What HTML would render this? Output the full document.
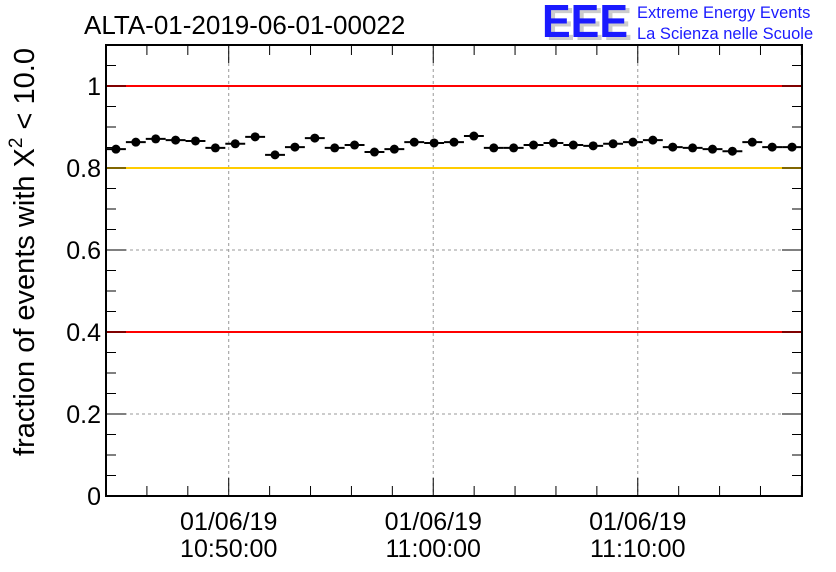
<!DOCTYPE html>
<html><head><meta charset="utf-8"><style>
body{margin:0;background:#fff;}
svg{display:block;font-family:"Liberation Sans",sans-serif;}
</style></head><body>
<svg id="c" width="836" height="572">
<text x="84" y="34" font-size="26">ALTA-01-2019-06-01-00022</text>
<g>
<text x="546" y="40" font-size="46" font-weight="bold" fill="#ccc" textLength="86" lengthAdjust="spacingAndGlyphs">EEE</text>
<text x="542" y="37" font-size="46" font-weight="bold" fill="#1a1aff" textLength="86" lengthAdjust="spacingAndGlyphs">EEE</text>
<text x="637" y="18" font-size="16.5" fill="#1a1aff">Extreme Energy Events</text>
<text x="637" y="39" font-size="16.5" fill="#1a1aff">La Scienza nelle Scuole</text>
</g>
<text transform="translate(34,252) rotate(-90)" text-anchor="middle" font-size="29">fraction of events with X<tspan dy="-12" font-size="19">2</tspan><tspan dy="12"> &lt; 10.0</tspan></text>
<g id="g"></g>
</svg>
<script>
const values=[0.846,0.863,0.871,0.868,0.866,0.849,0.859,0.876,0.832,0.851,0.873,0.849,0.856,0.839,0.846,0.863,0.861,0.863,0.878,0.849,0.849,0.856,0.861,0.856,0.854,0.859,0.863,0.868,0.851,0.849,0.846,0.841,0.863,0.851,0.851];
const yTicks=[0,0.2,0.4,0.6,0.8,1];
const yTickLabels=["0","0.2","0.4","0.6","0.8","1"];
const xTicks=[6,16,26];
const xTickLabels=[["01/06/19","10:50:00"],["01/06/19","11:00:00"],["01/06/19","11:10:00"]];
const refLines=[[1,"#f00"],[0.8,"#fc0"],[0.4,"#f00"]];
const X0=106,X1=802,Y0=496,Y1=45,TMIN=0,TMAX=34.03,VMAX=1.1;
const xs=t=>X0+(t-TMIN)/(TMAX-TMIN)*(X1-X0);
const ys=v=>Y0-v/VMAX*(Y0-Y1);
const g=document.getElementById('g');
const NS="http://www.w3.org/2000/svg";
function mk(tag,a,name){const e=document.createElementNS(NS,tag);for(const k in a)e.setAttribute(k,a[k]);


g.appendChild(e);return e;}
yTicks.forEach((v,i)=>{
 if(v>0&&v<1.05) mk('line',{x1:X0,x2:X1,y1:ys(v),y2:ys(v),stroke:"#999","stroke-dasharray":"3,3"},'y-grid-line');
 const t=mk('text',{x:X0-5,y:ys(v)+9,"text-anchor":"end","font-size":"25"},'y-tick-label');t.textContent=yTickLabels[i];
});
xTicks.forEach((m,i)=>{
 mk('line',{x1:xs(m),x2:xs(m),y1:Y1,y2:Y0,stroke:"#999","stroke-dasharray":"3,3"},'x-grid-line');
 const t1=mk('text',{x:xs(m),y:530,"text-anchor":"middle","font-size":"25"},'x-tick-date');t1.textContent=xTickLabels[i][0];
 const t2=mk('text',{x:xs(m),y:557,"text-anchor":"middle","font-size":"25"},'x-tick-time');t2.textContent=xTickLabels[i][1];
});
refLines.forEach(r=>mk('line',{x1:X0,x2:X1,y1:ys(r[0]),y2:ys(r[0]),stroke:r[1],"stroke-width":2},'reference-line'));
for(let v=0;v<=1.1001;v+=0.05){const big=Math.abs(v/0.2-Math.round(v/0.2))<1e-6;const L=big?20:10;
 mk('line',{x1:X0,x2:X0+L,y1:ys(v),y2:ys(v),stroke:"#000"},'y-tick');
 mk('line',{x1:X1,x2:X1-L,y1:ys(v),y2:ys(v),stroke:"#000"},'y-tick-right');}
for(let m=0;m<=34;m+=2){const big=(m-6)%10===0;const L=big?18:10;
 mk('line',{x1:xs(m),x2:xs(m),y1:Y0,y2:Y0-L,stroke:"#000"},'x-tick');
 mk('line',{x1:xs(m),x2:xs(m),y1:Y1,y2:Y1+L,stroke:"#000"},'x-tick-top');}
mk('rect',{x:X0,y:Y1,width:X1-X0,height:Y0-Y1,fill:"none",stroke:"#000","stroke-width":2},'plot-frame');
const bw=(TMAX-TMIN)/values.length;
values.forEach((v,i)=>{
 mk('line',{x1:xs(i*bw),x2:xs((i+1)*bw),y1:ys(v),y2:ys(v),stroke:"#000","stroke-width":2},'error-bar');
 mk('circle',{cx:xs((i+0.5)*bw),cy:ys(v),r:4.5,fill:"#000"},'data-point');
});
</script>
</body></html>
